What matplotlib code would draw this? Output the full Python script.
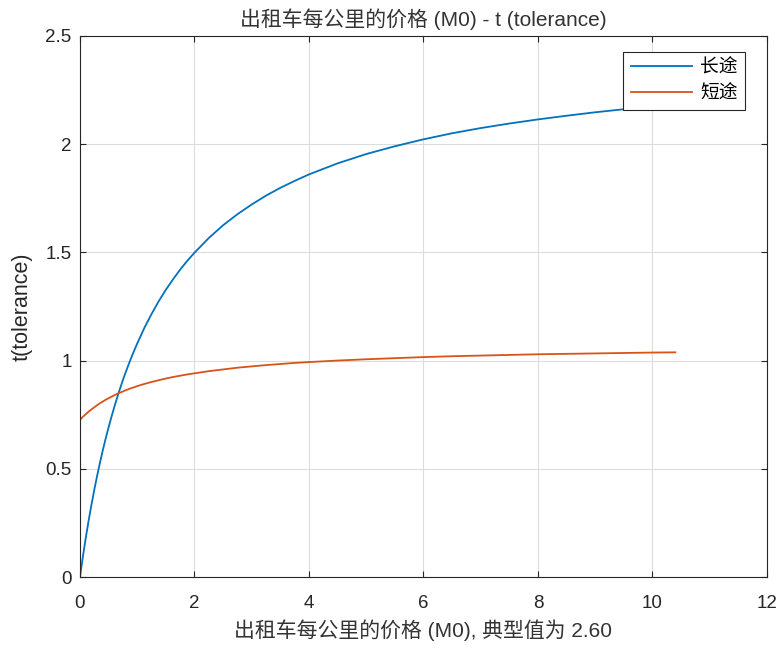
import matplotlib
matplotlib.use("Agg")
import matplotlib.pyplot as plt

# values
x_vals = [0, 0.05, 0.1, 0.15, 0.2, 0.25, 0.3, 0.35, 0.4, 0.45, 0.5, 0.55, 0.6, 0.65,
          0.7, 0.75, 0.8, 0.85, 0.9, 0.95, 1.0,
          1.125, 1.25, 1.375, 1.5, 1.625, 1.75, 1.875, 2.0,
          2.25, 2.5, 2.75, 3.0, 3.25, 3.5, 3.75, 4.0,
          4.5, 5.0, 5.5, 6.0, 6.5, 7.0, 7.5, 8.0, 8.5, 9.0, 9.5, 10.0, 10.4]

y_long = [0, 0.093, 0.179, 0.259, 0.333, 0.403, 0.468, 0.529, 0.587, 0.641, 0.692,
          0.740, 0.786, 0.829, 0.871, 0.910, 0.947, 0.982, 1.016, 1.048, 1.079,
          1.151, 1.215, 1.274, 1.327, 1.375, 1.420, 1.461, 1.498,
          1.566, 1.625, 1.676, 1.721, 1.762, 1.798, 1.830, 1.860,
          1.911, 1.954, 1.990, 2.022, 2.050, 2.074, 2.095, 2.114, 2.131, 2.147,
          2.161, 2.174, 2.183]

y_short = [0.726, 0.740, 0.752, 0.764, 0.774, 0.784, 0.794, 0.803, 0.811, 0.819, 0.826,
           0.833, 0.840, 0.846, 0.852, 0.857, 0.863, 0.868, 0.873, 0.877, 0.882,
           0.892, 0.901, 0.909, 0.917, 0.924, 0.930, 0.936, 0.941,
           0.951, 0.959, 0.967, 0.973, 0.979, 0.984, 0.989, 0.993,
           1.000, 1.006, 1.011, 1.016, 1.020, 1.023, 1.026, 1.029, 1.031, 1.033,
           1.035, 1.037, 1.038]

series_names = ["长途", "短途"]
x_ticks = [0, 2, 4, 6, 8, 10, 12]
y_ticks = [0, 0.5, 1, 1.5, 2, 2.5]
y_ticklabels = ["0", "0.5", "1", "1.5", "2", "2.5"]

plt.rcParams['font.family'] = ['Liberation Sans', 'Noto Sans CJK SC']
plt.rcParams['axes.unicode_minus'] = False

fig = plt.figure(figsize=(7.81, 6.52), dpi=100)
ax = fig.add_axes([0.1024, 0.115, 0.8796, 0.83])

ax.plot(x_vals, y_long, color="#0072BD", lw=1.3, label=series_names[0])
ax.plot(x_vals, y_short, color="#D95319", lw=1.3, label=series_names[1])

ax.set_xlim(0, 12)
ax.set_ylim(0, 2.5)
ax.set_xticks(x_ticks)
ax.set_yticks(y_ticks)
ax.set_yticklabels(y_ticklabels)
ax.tick_params(direction="in", length=4, width=0.8, colors="#262626",
               labelsize=13.5, top=True, right=True)
ax.tick_params(axis="x", pad=13)
ax.tick_params(axis="y", pad=6)
for s in ax.spines.values():
    s.set_color("#262626")
    s.set_linewidth(0.8)
ax.grid(True, color="#DCDCDC", lw=0.8)
ax.set_axisbelow(True)

ax.set_title("出租车每公里的价格 (M0) - t (tolerance)", fontsize=15, color="#333333", pad=7)
ax.set_xlabel("出租车每公里的价格 (M0), 典型值为 2.60", fontsize=15, color="#333333", labelpad=5)
ax.set_ylabel("t(tolerance)", fontsize=15.5, color="#262626", labelpad=9)

leg = ax.legend(loc="upper right", bbox_to_anchor=(0.968, 0.97), fancybox=False,
                framealpha=1, edgecolor="#262626", fontsize=13.5, handlelength=3.3,
                borderpad=0.4, labelspacing=0.45, handletextpad=0.4, borderaxespad=0)
leg.get_frame().set_linewidth(0.8)

plt.savefig("out.png", dpi=100)
